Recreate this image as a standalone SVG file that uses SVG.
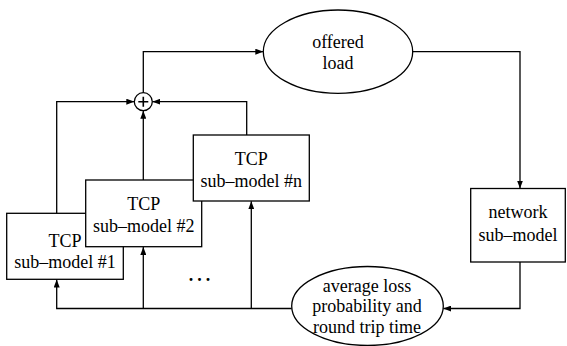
<svg xmlns="http://www.w3.org/2000/svg" width="567" height="346" viewBox="0 0 567 346">
<style>
.n{fill:#fff;stroke:#000;stroke-width:1.3}
.c{fill:none;stroke:#000;stroke-width:1.3}
text{font-family:'Liberation Serif','Times New Roman',serif;font-size:18px;fill:#000;text-anchor:middle}
</style>
<defs>
<marker id="a" viewBox="0 0 8 6" refX="8" refY="3" markerWidth="8" markerHeight="6" markerUnits="userSpaceOnUse" orient="auto">
<path d="M0,0 L8,3 L0,6 z" fill="#000"/>
</marker>
</defs>
<rect width="567" height="346" fill="#fff"/>
<g id="connectors">
<path class="c" d="M143.3,92.7 V51.7 H263.3" marker-end="url(#a)"/>
<path class="c" d="M412.7,51.7 H520 V188.5" marker-end="url(#a)"/>
<path class="c" d="M520,262 V308.5 H443.3" marker-end="url(#a)"/>
<path class="c" d="M291.7,308.5 H56.7 V279.5" marker-end="url(#a)"/>
<path class="c" d="M143.3,308.5 V247" marker-end="url(#a)"/>
<path class="c" d="M251.3,308.5 V201.3" marker-end="url(#a)"/>
<path class="c" d="M56.7,213.3 V101.7 H134.3" marker-end="url(#a)"/>
<path class="c" d="M246.7,135 V101.7 H152.3" marker-end="url(#a)"/>
<path class="c" d="M143.3,180 V110.7" marker-end="url(#a)"/>
</g>
<g id="sum">
<circle class="n" cx="143.3" cy="101.7" r="9"/>
<path d="M138.3,101.7 H148.3 M143.3,96.7 V106.7" stroke="#000" stroke-width="1.6"/>
</g>
<g id="offered-load">
<ellipse class="n" cx="338" cy="51.7" rx="74.7" ry="41.7"/>
<text x="338" y="48">offered</text>
<text x="338" y="69">load</text>
</g>
<g id="tcp-1">
<rect class="n" x="6.7" y="213.3" width="116.6" height="66"/>
<text x="65" y="246.5">TCP</text>
<text x="65" y="267.5">sub–model #1</text>
</g>
<g id="tcp-2">
<rect class="n" x="85.7" y="180" width="116" height="66.7"/>
<text x="143.7" y="210">TCP</text>
<text x="143.7" y="232">sub–model #2</text>
</g>
<g id="tcp-n">
<rect class="n" x="193.3" y="135" width="116" height="66"/>
<text x="251.3" y="165">TCP</text>
<text x="251.3" y="187">sub–model #n</text>
</g>
<g id="dots">
<text x="201.5" y="281" style="font-weight:bold;letter-spacing:4px">...</text>
</g>
<g id="network">
<rect class="n" x="470.7" y="188.5" width="94.6" height="73.5"/>
<text x="518" y="218.3">network</text>
<text x="518" y="240.5">sub–model</text>
</g>
<g id="avg">
<ellipse class="n" cx="367.5" cy="306" rx="75.8" ry="39.5"/>
<text x="367" y="291.7">average loss</text>
<text x="367" y="312">probability and</text>
<text x="367" y="333">round trip time</text>
</g>
</svg>
